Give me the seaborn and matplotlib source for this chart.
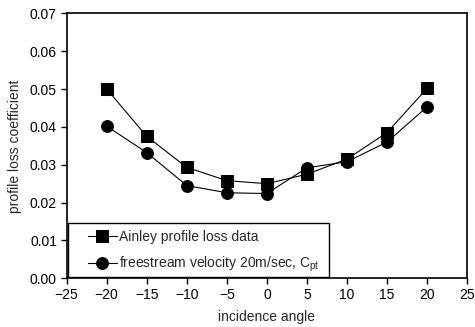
import matplotlib
matplotlib.use("Agg")
import matplotlib.pyplot as plt
from matplotlib.patches import Rectangle
import seaborn as sns
import pandas as pd

angles = [-20, -15, -10, -5, 0, 5, 10, 15, 20]
ainley = [0.050, 0.0375, 0.0293, 0.0258, 0.0250, 0.0275, 0.0315, 0.0385, 0.0502]
freestream = [0.0402, 0.0332, 0.0245, 0.0226, 0.0224, 0.0292, 0.0308, 0.0360, 0.0453]
xticks = [-25, -20, -15, -10, -5, 0, 5, 10, 15, 20, 25]
yticks = [0.00, 0.01, 0.02, 0.03, 0.04, 0.05, 0.06, 0.07]

sns.set_theme(style="ticks")
plt.rcParams['font.family'] = ['Liberation Sans', 'DejaVu Sans']

df = pd.DataFrame({"angle": angles * 2,
                   "loss": ainley + freestream,
                   "series": ["Ainley profile loss data"] * len(angles)
                   + ["freestream velocity 20m/sec, C$_{\\mathregular{pt}}$"] * len(angles)})

fig = plt.figure(figsize=(4.75, 3.27), dpi=100)
ax = fig.add_axes([0.1404, 0.149, 0.843, 0.810])

sns.lineplot(data=df, x="angle", y="loss", hue="series", style="series",
             markers=["s", "o"], dashes=False, palette=["black", "black"],
             markersize=8.5, linewidth=0.8, markeredgecolor="black", ax=ax)

ax.set_xlim(-25, 25)
ax.set_ylim(0, 0.07)
ax.set_xticks(xticks)
ax.set_yticks(yticks)
ax.set_yticklabels([f"{v:.2f}" for v in yticks])
ax.tick_params(direction="out", length=4.5, width=1, pad=2.5, labelsize=10, colors="black")
for s in ax.spines.values():
    s.set_linewidth(1.2)
    s.set_color("black")
ax.set_xlabel("incidence angle", fontsize=10, labelpad=6)
ax.set_ylabel("profile loss coefficient", fontsize=10, labelpad=6)

leg = ax.legend(loc="center left", bbox_to_anchor=(0.053, 0.100), frameon=False,
                fontsize=10, handlelength=2.1, borderaxespad=0, borderpad=0,
                labelspacing=0.8, handletextpad=0.15)
leg.set_title(None)

ax.add_patch(Rectangle((0.003, 0.005), 0.652, 0.204, transform=ax.transAxes,
                       fill=False, edgecolor="black", linewidth=1.0, zorder=5))

fig.savefig("out.png", dpi=100)
